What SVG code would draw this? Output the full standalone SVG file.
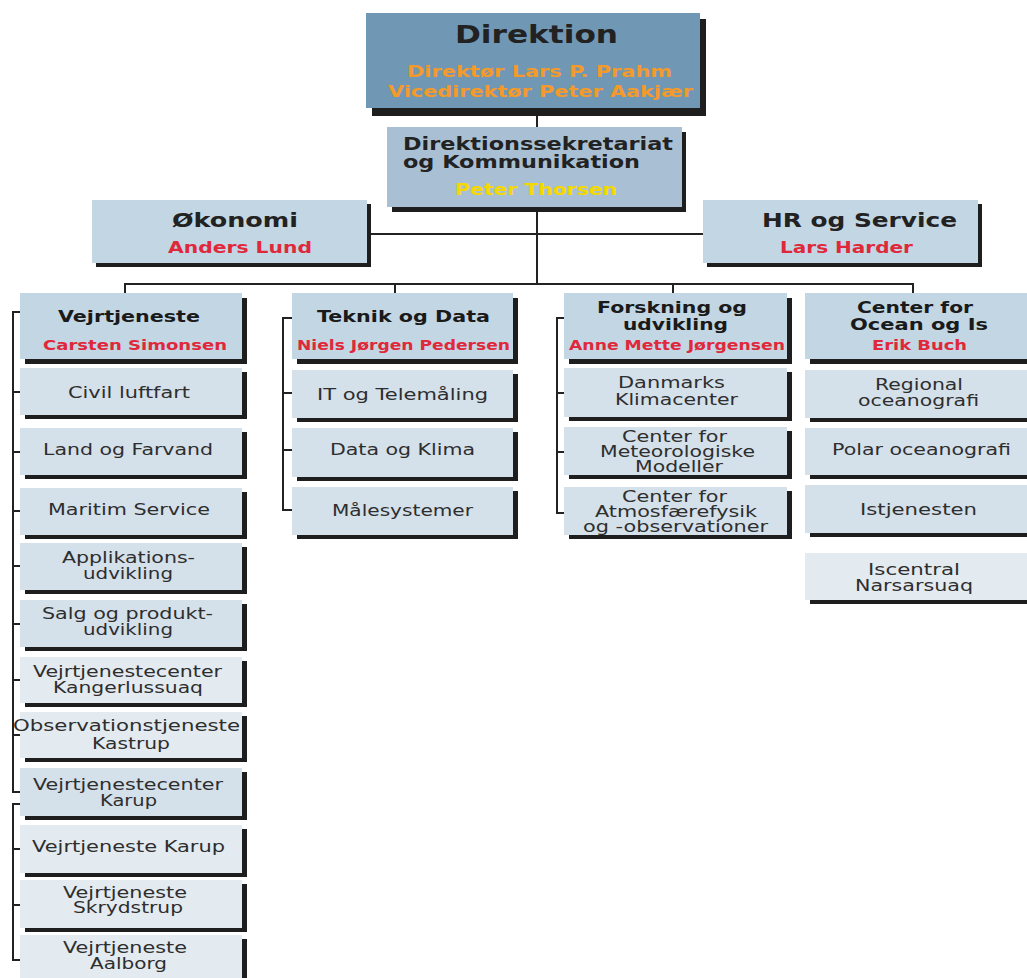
<svg xmlns="http://www.w3.org/2000/svg" width="1027" height="978" viewBox="0 0 1027 978">
<style>
text{font-family:"DejaVu Sans",Verdana,"Liberation Sans",sans-serif;text-anchor:middle}
.sh{fill:#1e1e1e}
.b0{fill:#7097b4}
.b1{fill:#a9c0d4}
.b2{fill:#c3d6e3}
.b3{fill:#d4e0ea}
.b4{fill:#e3eaf0}
.t1{font-size:25px;font-weight:bold;fill:#222}
.or{font-size:15px;font-weight:bold;fill:#f39a2b}
.sk{font-size:18px;font-weight:bold;fill:#222;text-anchor:start}
.ye{font-size:15px;font-weight:bold;fill:#f5d800}
.h2{font-size:20px;font-weight:bold;fill:#222}
.r2{font-size:15px;font-weight:bold;fill:#e0283b}
.h3{font-size:16px;font-weight:bold;fill:#1a1a1a}
.r3{font-size:14px;font-weight:bold;fill:#e0283b}
.s{font-size:16px;fill:#2e2e2e}
.s2{font-size:15px;fill:#2e2e2e}
.ln{fill:none;stroke:#222;stroke-width:2}
</style>
<g id="connectors">
<path class="ln" d="M537,110 V284"/>
<path class="ln" d="M367,234 H703" stroke="#555"/>
<path class="ln" d="M125,293 V284 H913 V293 M395,284 V293 M673,284 V293"/>
<path class="ln" d="M20,312 H13 V792 H20 M13,392 H20 M13,452 H20 M13,511 H20 M13,566 H20 M13,624 H20 M13,680 H20 M13,735 H20"/>
<path class="ln" d="M20,804 H13 V960 H20 M13,849 H20 M13,905 H20"/>
<path class="ln" d="M292,318 H283 V510 H292 M283,393 H292 M283,450 H292"/>
<path class="ln" d="M564,318 H557 V513 H564 M557,393 H564 M557,452 H564"/>
</g>
<g id="direktion"><rect class="sh" x="372" y="19" width="334" height="97"/><rect class="b0" x="366" y="13" width="334" height="95"/>
<text class="t1" x="536.5" y="43" textLength="163" lengthAdjust="spacingAndGlyphs">Direktion</text>
<text class="or" x="539.5" y="77" textLength="265" lengthAdjust="spacingAndGlyphs">Direktør Lars P. Prahm</text>
<text class="or" x="540.5" y="97" textLength="305" lengthAdjust="spacingAndGlyphs">Vicedirektør Peter Aakjær</text></g>
<g id="sekretariat"><rect class="sh" x="392" y="132" width="294" height="80"/><rect class="b1" x="387" y="127" width="295" height="80"/>
<text class="sk" x="403" y="150" textLength="270" lengthAdjust="spacingAndGlyphs">Direktionssekretariat</text>
<text class="sk" x="403" y="168" textLength="237" lengthAdjust="spacingAndGlyphs">og Kommunikation</text>
<text class="ye" x="536" y="195" textLength="162" lengthAdjust="spacingAndGlyphs">Peter Thorsen</text></g>
<g id="okonomi"><rect class="sh" x="96" y="204" width="275" height="63"/><rect class="b2" x="92" y="200" width="275" height="63"/>
<text class="h2" x="235" y="227" textLength="126" lengthAdjust="spacingAndGlyphs">Økonomi</text>
<text class="r2" x="240" y="253" textLength="144" lengthAdjust="spacingAndGlyphs">Anders Lund</text></g>
<g id="hr"><rect class="sh" x="707" y="204" width="275" height="63"/><rect class="b2" x="703" y="200" width="275" height="63"/>
<text class="h2" x="859.5" y="227" textLength="195" lengthAdjust="spacingAndGlyphs">HR og Service</text>
<text class="r2" x="846.5" y="253" textLength="133" lengthAdjust="spacingAndGlyphs">Lars Harder</text></g>

<g id="vejrtjeneste"><rect class="sh" x="25" y="298" width="222" height="66"/><rect class="b2" x="20" y="293" width="222" height="66"/>
<text class="h3" x="129" y="322" textLength="142" lengthAdjust="spacingAndGlyphs">Vejrtjeneste</text>
<text class="r3" x="135" y="350" textLength="184" lengthAdjust="spacingAndGlyphs">Carsten Simonsen</text></g>
<g id="civil"><rect class="sh" x="25" y="372" width="222" height="47"/><rect class="b3" x="20" y="368" width="222" height="47"/>
<text class="s" x="129" y="398" textLength="122" lengthAdjust="spacingAndGlyphs">Civil luftfart</text></g>
<g id="land"><rect class="sh" x="25" y="432" width="222" height="47"/><rect class="b3" x="20" y="428" width="222" height="47"/>
<text class="s" x="128" y="455" textLength="170" lengthAdjust="spacingAndGlyphs">Land og Farvand</text></g>
<g id="maritim"><rect class="sh" x="25" y="492" width="222" height="47"/><rect class="b3" x="20" y="488" width="222" height="47"/>
<text class="s" x="129" y="515" textLength="162" lengthAdjust="spacingAndGlyphs">Maritim Service</text></g>
<g id="applikation"><rect class="sh" x="25" y="547" width="222" height="47"/><rect class="b3" x="20" y="543" width="222" height="47"/>
<text class="s2" x="128.5" y="562.5" textLength="133" lengthAdjust="spacingAndGlyphs">Applikations-</text>
<text class="s2" x="128" y="578.5" textLength="90" lengthAdjust="spacingAndGlyphs">udvikling</text></g>
<g id="salg"><rect class="sh" x="25" y="604" width="222" height="47"/><rect class="b3" x="20" y="600" width="222" height="47"/>
<text class="s2" x="127.5" y="618.5" textLength="171" lengthAdjust="spacingAndGlyphs">Salg og produkt-</text>
<text class="s2" x="128" y="634.5" textLength="90" lengthAdjust="spacingAndGlyphs">udvikling</text></g>
<g id="kangerlussuaq"><rect class="sh" x="25" y="661" width="222" height="46"/><rect class="b4" x="20" y="657" width="222" height="46"/>
<text class="s2" x="127.5" y="676.5" textLength="189" lengthAdjust="spacingAndGlyphs">Vejrtjenestecenter</text>
<text class="s2" x="128" y="692.5" textLength="150" lengthAdjust="spacingAndGlyphs">Kangerlussuaq</text></g>
<g id="kastrup"><rect class="sh" x="25" y="716" width="222" height="46"/><rect class="b4" x="20" y="712" width="222" height="46"/>
<text class="s2" x="126.5" y="730.5" textLength="227" lengthAdjust="spacingAndGlyphs">Observationstjeneste</text>
<text class="s2" x="131" y="748.5" textLength="78" lengthAdjust="spacingAndGlyphs">Kastrup</text></g>
<g id="vcarup"><rect class="sh" x="25" y="772" width="222" height="48"/><rect class="b3" x="20" y="768" width="222" height="48"/>
<text class="s2" x="128" y="789.5" textLength="190" lengthAdjust="spacingAndGlyphs">Vejrtjenestecenter</text>
<text class="s2" x="128.5" y="805.5" textLength="57" lengthAdjust="spacingAndGlyphs">Karup</text></g>
<g id="vkarup"><rect class="sh" x="25" y="829" width="222" height="48"/><rect class="b4" x="20" y="825" width="222" height="48"/>
<text class="s" x="128.5" y="852" textLength="193" lengthAdjust="spacingAndGlyphs">Vejrtjeneste Karup</text></g>
<g id="skrydstrup"><rect class="sh" x="25" y="884" width="222" height="48"/><rect class="b4" x="20" y="880" width="222" height="48"/>
<text class="s2" x="125" y="897.5" textLength="124" lengthAdjust="spacingAndGlyphs">Vejrtjeneste</text>
<text class="s2" x="128" y="912.5" textLength="110" lengthAdjust="spacingAndGlyphs">Skrydstrup</text></g>
<g id="aalborg"><rect class="sh" x="25" y="939" width="222" height="48"/><rect class="b4" x="20" y="935" width="222" height="48"/>
<text class="s2" x="125" y="952.5" textLength="124" lengthAdjust="spacingAndGlyphs">Vejrtjeneste</text>
<text class="s2" x="128.5" y="968.5" textLength="77" lengthAdjust="spacingAndGlyphs">Aalborg</text></g>

<g id="teknik"><rect class="sh" x="297" y="298" width="221" height="66"/><rect class="b2" x="292" y="293" width="221" height="66"/>
<text class="h3" x="403.5" y="322" textLength="173" lengthAdjust="spacingAndGlyphs">Teknik og Data</text>
<text class="r3" x="403.5" y="350" textLength="213" lengthAdjust="spacingAndGlyphs">Niels Jørgen Pedersen</text></g>
<g id="it"><rect class="sh" x="297" y="374" width="221" height="48"/><rect class="b3" x="292" y="370" width="221" height="48"/>
<text class="s" x="402.5" y="400" textLength="171" lengthAdjust="spacingAndGlyphs">IT og Telemåling</text></g>
<g id="dataklima"><rect class="sh" x="297" y="432" width="221" height="49"/><rect class="b3" x="292" y="428" width="221" height="49"/>
<text class="s" x="402.5" y="455" textLength="145" lengthAdjust="spacingAndGlyphs">Data og Klima</text></g>
<g id="maalesystemer"><rect class="sh" x="297" y="491" width="221" height="48"/><rect class="b3" x="292" y="487" width="221" height="48"/>
<text class="s" x="402.5" y="516" textLength="141" lengthAdjust="spacingAndGlyphs">Målesystemer</text></g>

<g id="forskning"><rect class="sh" x="569" y="298" width="223" height="66"/><rect class="b2" x="564" y="293" width="223" height="66"/>
<text class="h3" x="672" y="313" textLength="150" lengthAdjust="spacingAndGlyphs">Forskning og</text>
<text class="h3" x="675.5" y="330" textLength="105" lengthAdjust="spacingAndGlyphs">udvikling</text>
<text class="r3" x="677" y="350" textLength="216" lengthAdjust="spacingAndGlyphs">Anne Mette Jørgensen</text></g>
<g id="klimacenter"><rect class="sh" x="569" y="372" width="223" height="49"/><rect class="b3" x="564" y="368" width="223" height="49"/>
<text class="s2" x="671.5" y="387.5" textLength="107" lengthAdjust="spacingAndGlyphs">Danmarks</text>
<text class="s2" x="676.5" y="405" textLength="123" lengthAdjust="spacingAndGlyphs">Klimacenter</text></g>
<g id="meteomodeller"><rect class="sh" x="569" y="431" width="223" height="48"/><rect class="b3" x="564" y="427" width="223" height="48"/>
<text class="s2" x="674.5" y="442" textLength="105" lengthAdjust="spacingAndGlyphs">Center for</text>
<text class="s2" x="677.5" y="457" textLength="155" lengthAdjust="spacingAndGlyphs">Meteorologiske</text>
<text class="s2" x="679" y="472" textLength="88" lengthAdjust="spacingAndGlyphs">Modeller</text></g>
<g id="atmosfaere"><rect class="sh" x="569" y="491" width="223" height="48"/><rect class="b3" x="564" y="487" width="223" height="48"/>
<text class="s2" x="674.5" y="502" textLength="105" lengthAdjust="spacingAndGlyphs">Center for</text>
<text class="s2" x="676" y="517" textLength="162" lengthAdjust="spacingAndGlyphs">Atmosfærefysik</text>
<text class="s2" x="675.5" y="532" textLength="185" lengthAdjust="spacingAndGlyphs">og -observationer</text></g>

<g id="ocean"><rect class="sh" x="810" y="298" width="222" height="66"/><rect class="b2" x="805" y="293" width="222" height="66"/>
<text class="h3" x="915" y="313" textLength="116" lengthAdjust="spacingAndGlyphs">Center for</text>
<text class="h3" x="919" y="330" textLength="138" lengthAdjust="spacingAndGlyphs">Ocean og Is</text>
<text class="r3" x="919.5" y="350" textLength="95" lengthAdjust="spacingAndGlyphs">Erik Buch</text></g>
<g id="regional"><rect class="sh" x="810" y="374" width="222" height="48"/><rect class="b3" x="805" y="370" width="222" height="48"/>
<text class="s2" x="919" y="389.5" textLength="88" lengthAdjust="spacingAndGlyphs">Regional</text>
<text class="s2" x="918.5" y="405.5" textLength="121" lengthAdjust="spacingAndGlyphs">oceanografi</text></g>
<g id="polar"><rect class="sh" x="810" y="432" width="222" height="47"/><rect class="b3" x="805" y="428" width="222" height="47"/>
<text class="s" x="921.5" y="455" textLength="179" lengthAdjust="spacingAndGlyphs">Polar oceanografi</text></g>
<g id="istjenesten"><rect class="sh" x="810" y="489" width="222" height="48"/><rect class="b3" x="805" y="485" width="222" height="48"/>
<text class="s" x="918.5" y="515" textLength="117" lengthAdjust="spacingAndGlyphs">Istjenesten</text></g>
<g id="iscentral"><rect class="sh" x="810" y="557" width="222" height="47"/><rect class="b4" x="805" y="553" width="222" height="47"/>
<text class="s2" x="914" y="574.5" textLength="92" lengthAdjust="spacingAndGlyphs">Iscentral</text>
<text class="s2" x="914" y="590.5" textLength="118" lengthAdjust="spacingAndGlyphs">Narsarsuaq</text></g>
</svg>
